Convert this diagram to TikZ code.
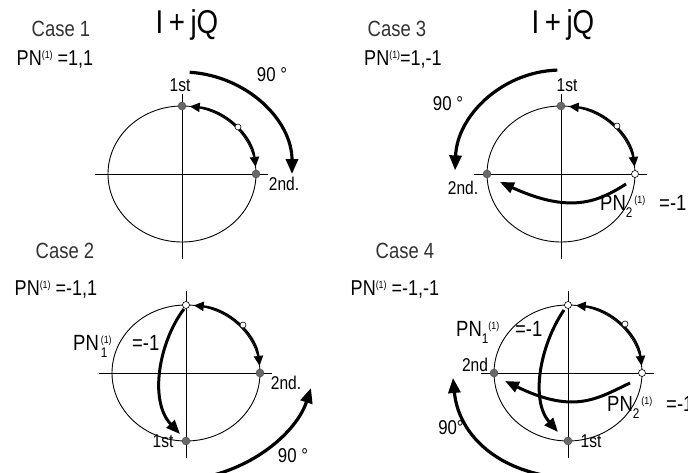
\documentclass[tikz,border=0pt]{standalone}
\usepackage{fontspec}
\setmainfont[FakeStretch=0.84]{Liberation Sans}
\usetikzlibrary{arrows.meta,calc}
\definecolor{dotgray}{RGB}{105,105,105}
\newcommand\pnup[1]{\raisebox{7pt}{\fontsize{10.5}{10.5}\selectfont #1}}
\newcommand\pndown[1]{\raisebox{-7pt}{\fontsize{14}{14}\selectfont #1}}
\begin{document}
\begin{tikzpicture}[x=1pt,y=1pt,
  axisline/.style={line width=0.8pt},
  ring/.style={line width=0.9pt},
  quarter/.style={line width=2.2pt,{Triangle[length=10pt,width=9pt]}-{Triangle[length=10pt,width=9pt]}},
  turn/.style={line width=3.2pt,-{Triangle[length=15pt,width=12pt]}},
  flip/.style={line width=3pt,-{Triangle[length=14pt,width=11pt]}},
  gdot/.style={circle,fill=dotgray,draw=dotgray!70!black,line width=0.4pt,inner sep=0pt,minimum size=8pt},
  odot/.style={circle,fill=white,draw=black,line width=0.6pt,inner sep=0pt,minimum size=7pt},
  sdot/.style={circle,fill=white,draw=black,line width=0.6pt,inner sep=0pt,minimum size=6pt},
  casel/.style={inner sep=0pt,font=\fontsize{22}{22}\selectfont,text=black!80},
  pnl/.style={inner sep=0pt,font=\fontsize{21.5}{21.5}\selectfont},
  pnb/.style={inner sep=0pt,font=\fontsize{22}{22}\selectfont,anchor=base west},
  ttl/.style={inner sep=0pt,font=\fontsize{33}{33}\selectfont},
  ptl/.style={inner sep=0pt,font=\fontsize{18.5}{18.5}\selectfont},
  degl/.style={inner sep=0pt,font=\fontsize{20}{20}\selectfont},
]
\useasboundingbox (0,0) rectangle (688,-472);
\fill[white] (0,0) rectangle (688,-472);

% ---------------- Case 1
\coordinate (C1) at (182,-174);
\draw[ring] (C1) ellipse [x radius=74pt,y radius=68pt];
\draw[axisline] ($(C1)+(-87,0)$) -- ($(C1)+(86,0)$);
\draw[axisline] ($(C1)+(0,80)$) -- ($(C1)+(0,-85)$);
\draw[quarter] ($(C1)+(84:74pt and 68pt)$) arc[start angle=84,end angle=6,x radius=74pt,y radius=68pt];
\draw[turn] ($(C1)+(86:110pt and 102pt)$) arc[start angle=86,end angle=0,x radius=110pt,y radius=102pt];
\node[gdot] (t1) at ($(C1)+(0,68)$) {};
\node[gdot] (r1) at ($(C1)+(74,0)$) {};
\node[sdot] (m1) at (238,-127) {};
\node[casel] (case1) at (61,-29) {Case 1};
\node[pnl] (pn1) at (55,-59) {PN\pnup{(1)} =1,1};
\node[ttl] (ttl1) at (187,-25) {I\,+\,jQ};
\node[ptl] (st1) at (180,-85) {1st};
\node[ptl] (nd1) at (284,-184) {2nd.};
\node[degl] (deg1) at (272,-75) {90 °};

% ---------------- Case 3
\coordinate (C3) at (561,-174);
\draw[ring] (C3) ellipse [x radius=74pt,y radius=68pt];
\draw[axisline] ($(C3)+(-87,0)$) -- ($(C3)+(86,0)$);
\draw[axisline] ($(C3)+(0,80)$) -- ($(C3)+(0,-85)$);
\draw[quarter] ($(C3)+(84:74pt and 68pt)$) arc[start angle=84,end angle=6,x radius=74pt,y radius=68pt];
\draw[turn] ($(C3)+(92:106pt and 104pt)$) arc[start angle=92,end angle=178,x radius=106pt,y radius=104pt];
\coordinate (p3s) at (626,-184);
\coordinate (p3e) at (500,-182);
\draw[flip] (p3s) .. controls (598,-202) and (570,-214) .. (p3e);
\node[gdot] (t3) at ($(C3)+(0,68)$) {};
\node[gdot] (l3) at ($(C3)+(-74,0)$) {};
\node[odot] (r3) at ($(C3)+(74,0)$) {};
\node[sdot] (m3) at (617,-126) {};
\node[casel] (case3) at (397,-29) {Case 3};
\node[pnl] (pn3) at (403,-59) {PN\pnup{(1)}=1,-1};
\node[ttl] (ttl3) at (563,-25) {I\,+\,jQ};
\node[ptl] (st3) at (567,-85) {1st};
\node[ptl] (nd3) at (463,-188) {2nd.};
\node[degl] (deg3) at (448,-104) {90 °};
\node[pnb] (pq3) at (600,-210) {PN\pndown{2}\kern2pt\pnup{(1)}};
\node[pnb] (eq3) at (659,-210) {=-1};

% ---------------- Case 2
\coordinate (C2) at (186,-373);
\draw[ring] (C2) ellipse [x radius=74pt,y radius=68pt];
\draw[axisline] ($(C2)+(-87,0)$) -- ($(C2)+(86,0)$);
\draw[axisline] ($(C2)+(0,82)$) -- ($(C2)+(0,-85)$);
\draw[quarter] ($(C2)+(84:74pt and 68pt)$) arc[start angle=84,end angle=6,x radius=74pt,y radius=68pt];
\coordinate (p2s) at (184,-309);
\coordinate (p2e) at (180,-434);
\draw[flip] (p2s) .. controls (160,-340) and (148,-400) .. (p2e);
\coordinate (a2s) at (210,-476);
\coordinate (a2e) at (311,-388);
\draw[turn] (a2s) .. controls (262,-463) and (298,-428) .. (a2e);
\node[odot] (t2) at ($(C2)+(0,68)$) {};
\node[gdot] (r2) at ($(C2)+(74,0)$) {};
\node[gdot] (b2) at ($(C2)+(0,-68)$) {};
\node[sdot] (m2) at (243,-325) {};
\node[casel] (case2) at (65,-251) {Case 2};
\node[pnl] (pn2) at (56,-289) {PN\pnup{(1)} =-1,1};
\node[ptl] (st2) at (163,-441) {1st};
\node[ptl] (nd2) at (286,-383) {2nd.};
\node[degl] (deg2) at (293,-456) {90 °};
\node[pnb] (pq2) at (73,-350) {PN\kern2pt\rlap{\pnup{(1)}}\pndown{1}};
\node[pnb] (eq2) at (132,-350) {=-1};

% ---------------- Case 4
\coordinate (C4) at (568,-373);
\draw[ring] (C4) ellipse [x radius=74pt,y radius=68pt];
\draw[axisline] ($(C4)+(-87,0)$) -- ($(C4)+(86,0)$);
\draw[axisline] ($(C4)+(0,82)$) -- ($(C4)+(0,-85)$);
\draw[quarter] ($(C4)+(84:74pt and 68pt)$) arc[start angle=84,end angle=6,x radius=74pt,y radius=68pt];
\coordinate (p4s) at (564,-310);
\coordinate (p4e) at (558,-432);
\draw[flip] (p4s) .. controls (540,-345) and (530,-400) .. (p4e);
\coordinate (q4s) at (630,-383);
\coordinate (q4e) at (505,-381);
\draw[flip] (q4s) .. controls (598,-398) and (575,-415) .. (q4e);
\coordinate (a4s) at (548,-476);
\coordinate (a4e) at (453,-378);
\draw[turn] (a4s) .. controls (490,-466) and (458,-430) .. (a4e);
\node[odot] (t4) at ($(C4)+(0,68)$) {};
\node[gdot] (l4) at ($(C4)+(-74,0)$) {};
\node[odot] (r4) at ($(C4)+(74,0)$) {};
\node[gdot] (b4) at ($(C4)+(0,-68)$) {};
\node[sdot] (m4) at (625,-324) {};
\node[casel] (case4) at (405,-251) {Case 4};
\node[pnl] (pn4) at (395,-289) {PN\pnup{(1)} =-1,-1};
\node[ptl] (st4) at (591,-441) {1st};
\node[ptl] (nd4) at (475,-365) {2nd};
\node[degl] (deg4) at (451,-428) {90°};
\node[pnb] (pp4) at (456,-336) {PN\pndown{1}\pnup{(1)}};
\node[pnb] (eq4) at (515,-336) {=-1};
\node[pnb] (pq4) at (607,-411) {PN\pndown{2}\kern2pt\pnup{(1)}};
\node[pnb] (eq4b) at (666,-411) {=-1};
\end{tikzpicture}
\end{document}
